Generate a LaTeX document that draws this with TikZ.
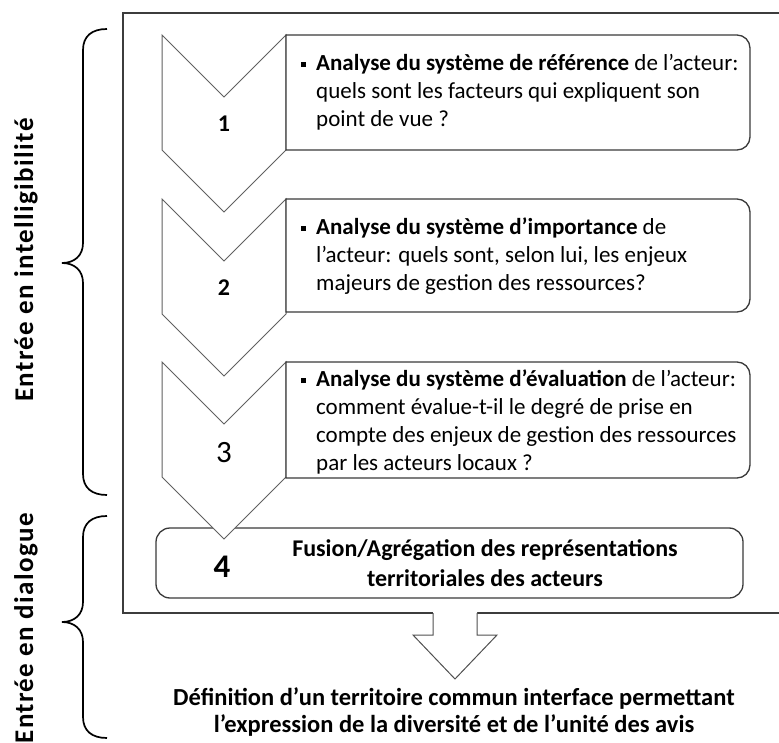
\documentclass[tikz,border=0pt]{standalone}
\usepackage{fontspec}
\setmainfont{Carlito}
\newfontfamily\sidefont[LetterSpace=5]{Carlito}
\definecolor{framegray}{HTML}{3C3C3C}
\definecolor{chevgray}{HTML}{606060}
\definecolor{boxgray}{HTML}{3A3A3A}
\definecolor{arrowgray}{HTML}{505050}
\tikzset{
  frameline/.style={draw=framegray, line width=1.4pt},
  chevron/.style={draw=chevgray, line width=1pt, fill=white, line join=miter},
  panel/.style={draw=boxgray, line width=1.3pt, fill=white},
  boxtext/.style={anchor=west, align=left, inner sep=0pt, font=\fontsize{23}{28}\selectfont},
  numlabel/.style={inner sep=0pt, font=\fontsize{24}{28}\selectfont\bfseries},
  bigarrow/.style={draw=arrowgray, line width=1pt, line join=miter},
  bracepath/.style={draw=black, line width=1.7pt},
  sidelabel/.style={rotate=90, inner sep=0pt, font=\sidefont\bfseries\fontsize{27}{30}\selectfont},
  concl/.style={align=center, inner sep=0pt, font=\fontsize{24.5}{27}\selectfont\bfseries},
  fusiontext/.style={align=center, inner sep=0pt, font=\fontsize{24}{30}\selectfont\bfseries},
}
\newcommand\mypanel[3]{%
  \draw[panel] (286,#1) -- ({#3-13},#1) arc[start angle=-90, end angle=0, radius=13]
    -- (#3,{#2-13}) arc[start angle=0, end angle=90, radius=13] -- (286,#2) -- cycle;}
\newcommand\mychev[1]{%
  \draw[chevron] (162,#1) -- (224,{#1+62}) -- (286,#1) -- (286,{#1+115})
    -- (224,{#1+177}) -- (162,{#1+115}) -- cycle;}
\newcommand\mybul{\llap{\rule[3.5pt]{5pt}{5pt}\hspace{10pt}}}
\begin{document}
\begin{tikzpicture}[x=1pt,y=-1pt]
\useasboundingbox (0,0) rectangle (779,743);
% frame
\draw[frameline] (779,13) -- (123,13) -- (123,613) -- (779,613);
% step 4 panel
\draw[panel, rounded corners=14pt] (156,528) rectangle (743,598);
% chevrons
\mychev{35}
\mychev{199}
\mychev{362}
% panels 1-3
\mypanel{35}{150}{750}
\mypanel{199}{312}{750}
\mypanel{362}{478}{750}
% numbers
\node[numlabel] (n1) at (224,124) {1};
\node[numlabel] (n2) at (224,288) {2};
\node[inner sep=0pt, font=\fontsize{31}{34}\selectfont] (n3) at (224,453) {3};
\node[inner sep=0pt, font=\fontsize{33}{36}\selectfont\bfseries] (n4) at (222,567) {4};
% texts
\node[boxtext] (t1) at (316,92) {\mybul\textbf{Analyse du système de référence} de l’acteur:\\quels sont les facteurs qui expliquent son\\point de vue ?};
\node[boxtext] (t2) at (316,256) {\mybul\textbf{Analyse du système d’importance} de\\l’acteur: quels sont, selon lui, les enjeux\\majeurs de gestion des ressources?};
\node[boxtext] (t3) at (316,422) {\mybul\textbf{Analyse du système d’évaluation} de l’acteur:\\comment évalue-t-il le degré de prise en\\compte des enjeux de gestion des ressources\\par les acteurs locaux ?};
\node[fusiontext] (t4) at (485,563) {Fusion/Agrégation des représentations\\territoriales des acteurs};
% big arrow
\fill[white] (433,611) -- (433,635) -- (413,635) -- (455,679) -- (497,635) -- (477,635) -- (477,611) -- cycle;
\draw[bigarrow] (433,613) -- (433,635) -- (413,635) -- (455,679) -- (497,635) -- (477,635) -- (477,613);
\node[concl] (t5) at (454,712) {Définition d’un territoire commun interface permettant\\l’expression de la diversité et de l’unité des avis};
% braces
\draw[bracepath] (107,29) .. controls (92,29) and (83,36) .. (83,50) -- (83,243)
  .. controls (83,256) and (74,263) .. (62,263) .. controls (74,263) and (83,270) .. (83,283)
  -- (83,474) .. controls (83,488) and (92,495) .. (107,495);
\draw[bracepath] (107,516) .. controls (92,516) and (83,523) .. (83,537) -- (83,602)
  .. controls (83,615) and (74,622) .. (62,622) .. controls (74,622) and (83,629) .. (83,642)
  -- (83,717) .. controls (83,731) and (92,738) .. (107,738);
% side labels
\node[sidelabel] (s1) at (26,260) {Entrée en intelligibilité};
\node[sidelabel, anchor=east] (s2) at (26,513) {Entrée en dialogue};
\end{tikzpicture}
\end{document}
